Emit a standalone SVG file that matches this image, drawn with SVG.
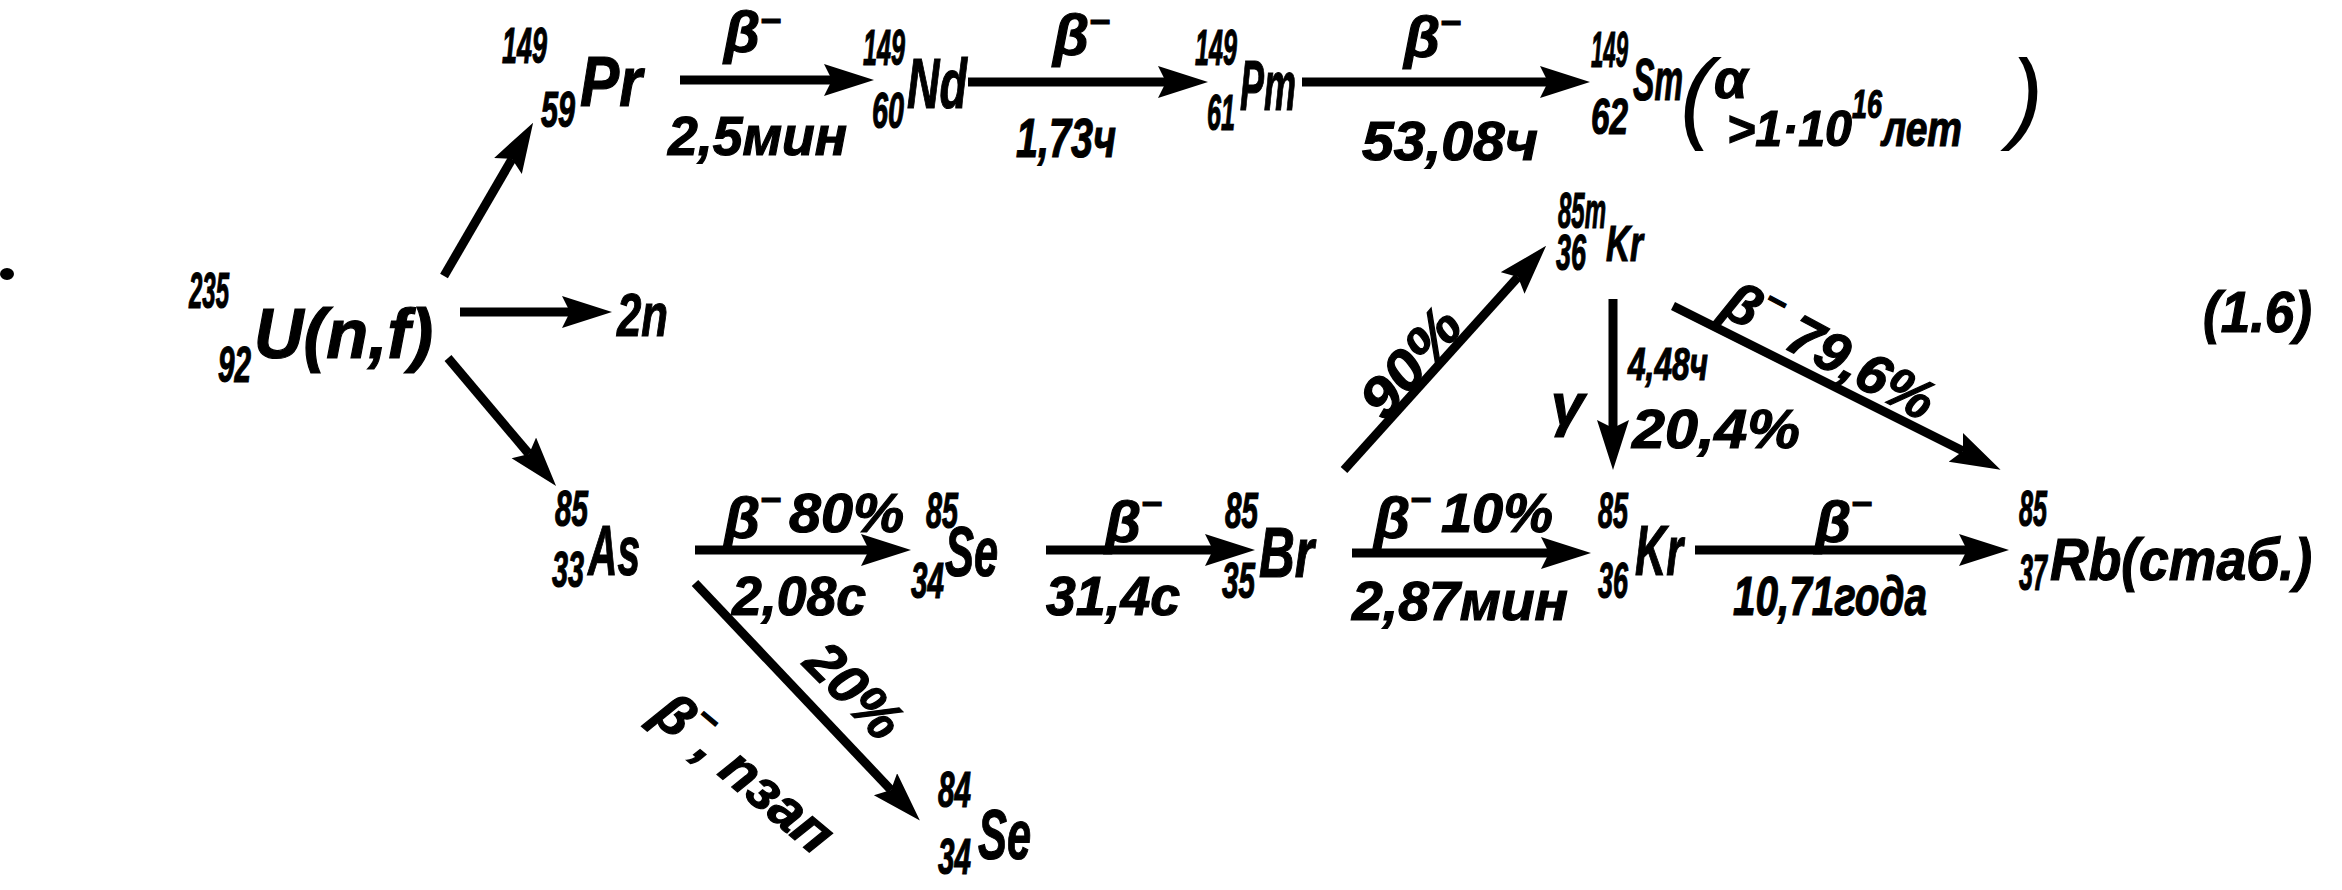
<svg xmlns="http://www.w3.org/2000/svg" width="2342" height="890" viewBox="0 0 2342 890">
<style>
.t{font-family:"Liberation Sans","DejaVu Sans",sans-serif;font-weight:bold;font-style:italic;fill:#000;stroke:#000;stroke-width:1.2px}
.sym{font-size:70px}
.num{font-size:50px}
.lab{font-size:56px}
.beta{font-size:58px}
.sup{font-size:36px}
.par{font-weight:normal;font-size:100px;stroke-width:0}
.ar{stroke:#000;stroke-width:9;fill:none;marker-end:url(#ah)}
</style>
<defs>
<marker id="ah" markerUnits="userSpaceOnUse" markerWidth="52" markerHeight="34" refX="8" refY="16" orient="auto" viewBox="0 0 52 34">
<path d="M0,0 L50,16 L0,32 L8,16 Z" fill="#000"/>
</marker>
</defs>
<rect width="2342" height="890" fill="#fff"/>

<g id="connectors">
<path class="ar" d="M680,80 L832,80"/>
<path class="ar" d="M968,82 L1166,82"/>
<path class="ar" d="M1302,82 L1548,82"/>
<path class="ar" d="M444,276 L512,159"/>
<path class="ar" d="M460,312 L570,312"/>
<path class="ar" d="M448,358 L529,454"/>
<path class="ar" d="M695,550 L869,550"/>
<path class="ar" d="M1046,550 L1213,550"/>
<path class="ar" d="M1352,553 L1549,553"/>
<path class="ar" d="M1695,550 L1967,550"/>
<path class="ar" d="M1344,470 L1518,277"/>
<path class="ar" d="M1613,299 L1613,428"/>
<path class="ar" d="M1673,306 L1963,451"/>
<path class="ar" d="M695,583 L891,790"/>
</g>

<g id="edge-labels">
<text class="t beta" x="724" y="52">β<tspan class="sup" dy="-19">−</tspan></text>
<text class="t lab" x="668" y="155" textLength="179" lengthAdjust="spacingAndGlyphs">2,5мин</text>
<text class="t beta" x="1053" y="55">β<tspan class="sup" dy="-21">−</tspan></text>
<text class="t lab" x="1016" y="157" textLength="100" lengthAdjust="spacingAndGlyphs">1,73ч</text>
<text class="t beta" x="1404" y="57">β<tspan class="sup" dy="-22">−</tspan></text>
<text class="t lab" x="1362" y="160" textLength="176" lengthAdjust="spacingAndGlyphs">53,08ч</text>

<text class="t beta" x="724" y="538">β<tspan class="sup" dy="-26">−</tspan></text>
<text class="t lab" x="789" y="532" textLength="115" lengthAdjust="spacingAndGlyphs">80%</text>
<text class="t lab" x="732" y="615" textLength="134" lengthAdjust="spacingAndGlyphs">2,08с</text>
<text class="t beta" x="1105" y="542">β<tspan class="sup" dy="-26">−</tspan></text>
<text class="t lab" x="1046" y="615" textLength="134" lengthAdjust="spacingAndGlyphs">31,4с</text>
<text class="t beta" x="1374" y="538">β<tspan class="sup" dy="-26">−</tspan></text>
<text class="t lab" x="1441" y="532" textLength="112" lengthAdjust="spacingAndGlyphs">10%</text>
<text class="t lab" x="1352" y="620" textLength="216" lengthAdjust="spacingAndGlyphs">2,87мин</text>
<text class="t beta" x="1815" y="542">β<tspan class="sup" dy="-26">−</tspan></text>
<text class="t lab" x="1733" y="615" textLength="194" lengthAdjust="spacingAndGlyphs">10,71года</text>

<text class="t" style="font-size:60px" x="1551" y="425">γ</text>
<text class="t" style="font-size:46px" x="1628" y="380" textLength="80" lengthAdjust="spacingAndGlyphs">4,48ч</text>
<text class="t lab" x="1632" y="448" textLength="168" lengthAdjust="spacingAndGlyphs">20,4%</text>

<text class="t lab" text-anchor="middle" transform="translate(1410,362) rotate(-50)" y="20" textLength="125" lengthAdjust="spacingAndGlyphs">90%</text>
<text class="t lab" text-anchor="middle" transform="translate(1830,350) rotate(28)" y="20">β<tspan class="sup" dy="-26">−</tspan><tspan dy="26" dx="16">79,6%</tspan></text>
<text class="t lab" text-anchor="middle" transform="translate(855,690) rotate(45)" y="20">20%</text>
<text class="t lab" text-anchor="middle" transform="translate(745,772) rotate(40)" y="20">β<tspan class="sup" dy="-26">−</tspan><tspan dy="26">, nзап</tspan></text>
</g>

<g id="node-U">
<text class="t num" x="189" y="308" textLength="40" lengthAdjust="spacingAndGlyphs">235</text>
<text class="t num" x="218" y="382" textLength="33" lengthAdjust="spacingAndGlyphs">92</text>
<text class="t sym" x="254" y="358" textLength="179" lengthAdjust="spacingAndGlyphs">U(n,f)</text>
</g>
<g id="node-2n">
<text class="t" style="font-size:62px" x="617" y="336" textLength="51" lengthAdjust="spacingAndGlyphs">2n</text>
</g>
<g id="node-Pr">
<text class="t num" x="502" y="63" textLength="45" lengthAdjust="spacingAndGlyphs">149</text>
<text class="t num" x="541" y="127" textLength="34" lengthAdjust="spacingAndGlyphs">59</text>
<text class="t sym" x="580" y="106" textLength="62" lengthAdjust="spacingAndGlyphs">Pr</text>
</g>
<g id="node-Nd">
<text class="t num" x="863" y="65" textLength="42" lengthAdjust="spacingAndGlyphs">149</text>
<text class="t num" x="872" y="128" textLength="32" lengthAdjust="spacingAndGlyphs">60</text>
<text class="t sym" x="907" y="108" textLength="60" lengthAdjust="spacingAndGlyphs">Nd</text>
</g>
<g id="node-Pm">
<text class="t num" x="1195" y="65" textLength="42" lengthAdjust="spacingAndGlyphs">149</text>
<text class="t num" x="1207" y="130" textLength="28" lengthAdjust="spacingAndGlyphs">61</text>
<text class="t sym" x="1240" y="110" textLength="56" lengthAdjust="spacingAndGlyphs">Pm</text>
</g>
<g id="node-Sm">
<text class="t num" x="1591" y="67" textLength="37" lengthAdjust="spacingAndGlyphs">149</text>
<text class="t num" x="1591" y="134" textLength="37" lengthAdjust="spacingAndGlyphs">62</text>
<text class="t" style="font-size:60px" x="1633" y="100" textLength="50" lengthAdjust="spacingAndGlyphs">Sm</text>
<text class="t par" x="1680" y="130">(</text>
<text class="t" style="font-size:54px" x="1714" y="98">α</text>
<text class="t" style="font-size:50px" x="1727" y="146" textLength="125" lengthAdjust="spacingAndGlyphs">&gt;1·10</text>
<text class="t" style="font-size:40px" x="1852" y="118" textLength="30" lengthAdjust="spacingAndGlyphs">16</text>
<text class="t" style="font-size:50px" x="1882" y="146" textLength="80" lengthAdjust="spacingAndGlyphs">лет</text>
<text class="t par" x="2010" y="130">)</text>
</g>
<g id="node-As">
<text class="t num" x="555" y="526" textLength="33" lengthAdjust="spacingAndGlyphs">85</text>
<text class="t num" x="552" y="587" textLength="32" lengthAdjust="spacingAndGlyphs">33</text>
<text class="t sym" x="588" y="575" textLength="52" lengthAdjust="spacingAndGlyphs">As</text>
</g>
<g id="node-Se85">
<text class="t num" x="926" y="528" textLength="32" lengthAdjust="spacingAndGlyphs">85</text>
<text class="t num" x="911" y="598" textLength="33" lengthAdjust="spacingAndGlyphs">34</text>
<text class="t sym" x="945" y="576" textLength="53" lengthAdjust="spacingAndGlyphs">Se</text>
</g>
<g id="node-Br">
<text class="t num" x="1225" y="528" textLength="33" lengthAdjust="spacingAndGlyphs">85</text>
<text class="t num" x="1222" y="598" textLength="33" lengthAdjust="spacingAndGlyphs">35</text>
<text class="t sym" x="1259" y="577" textLength="55" lengthAdjust="spacingAndGlyphs">Br</text>
</g>
<g id="node-Kr85m">
<text class="t num" x="1558" y="228" textLength="48" lengthAdjust="spacingAndGlyphs">85m</text>
<text class="t" style="font-size:50px" x="1606" y="261" textLength="37" lengthAdjust="spacingAndGlyphs">Kr</text>
<text class="t num" x="1556" y="270" textLength="30" lengthAdjust="spacingAndGlyphs">36</text>
</g>
<g id="node-Kr85">
<text class="t num" x="1598" y="528" textLength="30" lengthAdjust="spacingAndGlyphs">85</text>
<text class="t num" x="1598" y="598" textLength="30" lengthAdjust="spacingAndGlyphs">36</text>
<text class="t sym" x="1635" y="575" textLength="48" lengthAdjust="spacingAndGlyphs">Kr</text>
</g>
<g id="node-Rb">
<text class="t num" x="2019" y="526" textLength="28" lengthAdjust="spacingAndGlyphs">85</text>
<text class="t num" x="2019" y="590" textLength="28" lengthAdjust="spacingAndGlyphs">37</text>
<text class="t" style="font-size:60px" x="2050" y="580" textLength="262" lengthAdjust="spacingAndGlyphs">Rb(стаб.)</text>
</g>
<g id="node-Se84">
<text class="t num" x="938" y="807" textLength="33" lengthAdjust="spacingAndGlyphs">84</text>
<text class="t num" x="938" y="874" textLength="33" lengthAdjust="spacingAndGlyphs">34</text>
<text class="t sym" x="978" y="859" textLength="53" lengthAdjust="spacingAndGlyphs">Se</text>
</g>
<g id="eq-number">
<text class="t" style="font-size:58px" x="2203" y="332" textLength="109" lengthAdjust="spacingAndGlyphs">(1.6)</text>
</g>
<ellipse cx="7" cy="274" rx="7" ry="6" fill="#000"/>
</svg>
